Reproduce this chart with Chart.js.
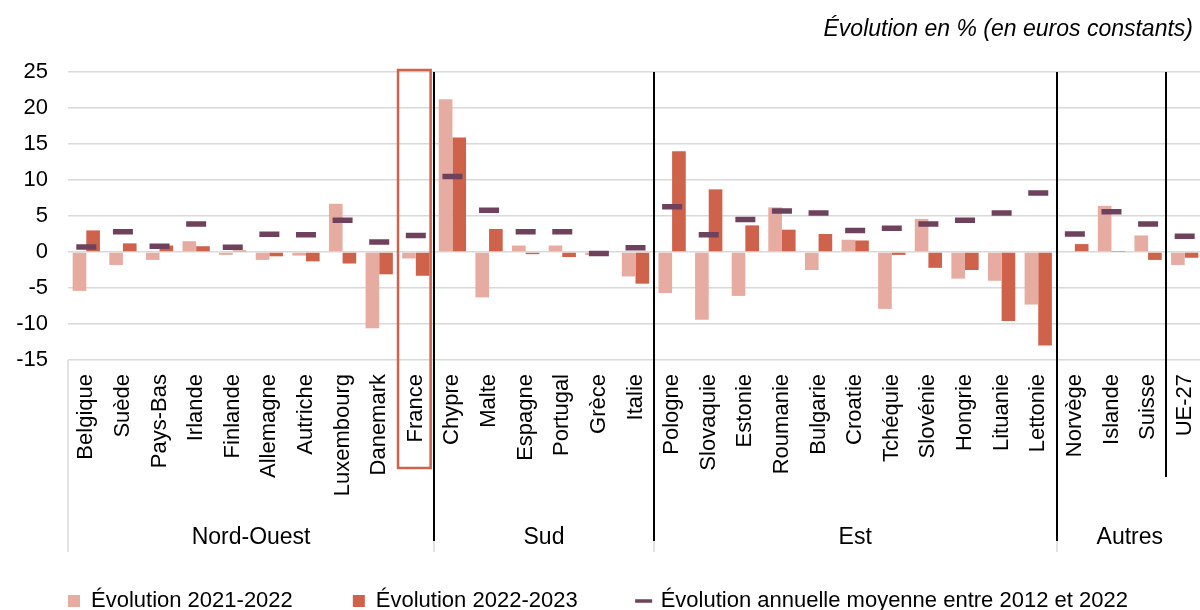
<!DOCTYPE html>
<html lang="fr">
<head>
<meta charset="utf-8">
<title>Évolution en % (en euros constants)</title>
<script src="https://cdn.jsdelivr.net/npm/chart.js@4.4.1/dist/chart.umd.min.js"></script>
<style>
    html, body { margin: 0; padding: 0; background: #fff; overflow: hidden; }
    #wrap { width: 1203px; height: 622px; }
</style>
</head>
<body>
<div id="wrap"><canvas id="chart" width="1203" height="622"></canvas></div>
<script>
    "use strict";

    // pays, dans l'ordre des groupes
    const countries = [
        'Belgique', 'Suède', 'Pays-Bas', 'Irlande', 'Finlande', 'Allemagne', 'Autriche', 'Luxembourg', 'Danemark', 'France',
        'Chypre', 'Malte', 'Espagne', 'Portugal', 'Grèce', 'Italie',
        'Pologne', 'Slovaquie', 'Estonie', 'Roumanie', 'Bulgarie', 'Croatie', 'Tchéquie', 'Slovénie', 'Hongrie', 'Lituanie', 'Lettonie',
        'Norvège', 'Islande', 'Suisse', 'UE-27'
    ];

    const groupNames = ['Nord-Ouest', 'Sud', 'Est', 'Autres'];
    const groupSizes = [10, 6, 11, 4];

    const evol2122 = [
        -5.4, -1.8, -1.1, 1.5, -0.4, -1.1, -0.5, 6.7, -10.6, -0.9,
        21.2, -6.3, 0.9, 0.9, -0.4, -3.4,
        -5.7, -9.4, -6.1, 6.2, -2.5, 1.7, -7.9, 4.6, -3.7, -4.0, -7.3,
        0.0, 6.4, 2.3, -1.8
    ];

    const evol2223 = [
        3.0, 1.2, 0.9, 0.8, 0.2, -0.6, -1.3, -1.6, -3.1, -3.3,
        15.9, 3.2, -0.3, -0.7, -0.1, -4.4,
        14.0, 8.7, 3.7, 3.1, 2.5, 1.6, -0.4, -2.2, -2.5, -9.6, -13.0,
        1.1, 0.05, -1.1, -0.8
    ];

    const evolMoyenne = [
        0.7, 2.8, 0.8, 3.9, 0.65, 2.45, 2.4, 4.4, 1.4, 2.3,
        10.5, 5.8, 2.8, 2.8, -0.2, 0.6,
        6.3, 2.4, 4.5, 5.7, 5.4, 3.0, 3.3, 3.9, 4.4, 5.4, 8.2,
        2.5, 5.6, 3.9, 2.2
    ];

    const yTicks = [-15, -10, -5, 0, 5, 10, 15, 20, 25];

    const lightColor = '#e6aca1';
    const darkColor = '#cf624a';
    const dashColor = '#6e425c';
    const gridColor = '#d9d9d9';
    const fontFamily = '"Liberation Sans", Arial, sans-serif';

    const highlight = 'France';
    const subSeparator = 'UE-27';

    const regionsPlugin = {
        id: 'regions',
        afterDatasetsDraw: function (chart) {
            const ctx = chart.ctx;
            const area = chart.chartArea;
            const x = chart.scales.x;
            const step = x.getPixelForValue(1) - x.getPixelForValue(0);
            const edge = (i) => x.getPixelForValue(i) - step / 2;
            const labelsBottom = area.bottom + 192;

            ctx.save();

            // light frame of the category axis
            ctx.strokeStyle = gridColor;
            ctx.lineWidth = 1.5;
            ctx.beginPath();
            ctx.moveTo(area.left, area.bottom);
            ctx.lineTo(area.left, labelsBottom);
            let start = 0;
            groupSizes.forEach((size) => {
                start += size;
                const px = Math.round(edge(start));
                ctx.moveTo(px, area.bottom);
                ctx.lineTo(px, labelsBottom);
            });
            ctx.stroke();

            // black group separators
            ctx.strokeStyle = '#000';
            ctx.lineWidth = 2;
            ctx.beginPath();
            start = 0;
            groupSizes.slice(0, -1).forEach((size) => {
                start += size;
                const px = Math.round(edge(start));
                ctx.moveTo(px, area.top);
                ctx.lineTo(px, area.bottom + 181);
            });
            const sub = Math.round(edge(countries.indexOf(subSeparator)));
            ctx.moveTo(sub, area.top);
            ctx.lineTo(sub, area.bottom + 117);
            ctx.stroke();

            // group names
            ctx.fillStyle = '#000';
            ctx.font = '23px ' + fontFamily;
            ctx.textAlign = 'center';
            ctx.textBaseline = 'middle';
            start = 0;
            groupSizes.forEach((size, i) => {
                const cx = (edge(start) + edge(start + size)) / 2;
                ctx.fillText(groupNames[i], cx, area.bottom + 178);
                start += size;
            });

            // France box
            const fi = countries.indexOf(highlight);
            ctx.strokeStyle = darkColor;
            ctx.lineWidth = 2.5;
            const bx = edge(fi) + 0.5;
            ctx.strokeRect(bx, area.top - 2, step - 4, area.bottom + 108 - (area.top - 2));

            // unit title
            ctx.font = 'italic 23px ' + fontFamily;
            ctx.textAlign = 'right';
            ctx.fillText('Évolution en % (en euros constants)', 1193, 30);

            ctx.restore();
        }
    };

    const legendLabels = ['Évolution 2021-2022', 'Évolution 2022-2023', 'Évolution annuelle moyenne entre 2012 et 2022'];

    new Chart(document.getElementById('chart'), {
        type: 'bar',
        data: {
            labels: countries,
            datasets: [{
                label: legendLabels[0],
                data: evol2122,
                backgroundColor: lightColor,
                order: 2
            }, {
                label: legendLabels[1],
                data: evol2223,
                backgroundColor: darkColor,
                order: 2
            }, {
                type: 'line',
                label: legendLabels[2],
                data: evolMoyenne,
                showLine: false,
                pointStyle: 'line',
                pointRadius: 10,
                pointHoverRadius: 10,
                pointBorderWidth: 5.5,
                pointBorderColor: dashColor,
                pointBackgroundColor: dashColor,
                borderColor: dashColor,
                order: 1
            }]
        },
        options: {
            responsive: false,
            animation: false,
            devicePixelRatio: 1,
            categoryPercentage: 0.745,
            barPercentage: 1,
            layout: {
                autoPadding: false,
                padding: {top: 72, left: 8, right: 0, bottom: 0}
            },
            scales: {
                x: {
                    grid: {display: false, drawTicks: false},
                    border: {display: false},
                    ticks: {
                        autoSkip: false,
                        maxRotation: 90,
                        minRotation: 90,
                        padding: 14,
                        color: '#000',
                        font: {family: fontFamily, size: 22}
                    },
                    afterFit: (scale) => {
                        scale.height = 170;
                        scale.paddingLeft = 0;
                        scale.paddingRight = 0;
                    }
                },
                y: {
                    min: -15,
                    max: 25,
                    afterBuildTicks: (scale) => {
                        scale.ticks = yTicks.map((v) => ({value: v}));
                    },
                    grid: {color: gridColor, lineWidth: 1.5, drawTicks: false},
                    border: {display: false},
                    ticks: {
                        padding: 20,
                        color: '#000',
                        font: {family: fontFamily, size: 22}
                    },
                    afterFit: (scale) => {
                        scale.width = 60;
                    }
                }
            },
            plugins: {
                tooltip: {enabled: false},
                legend: {
                    position: 'bottom',
                    align: 'start',
                    labels: {
                        usePointStyle: true,
                        boxWidth: 12,
                        boxHeight: 12,
                        padding: 60,
                        color: '#000',
                        font: {family: fontFamily, size: 22},
                        generateLabels: (chart) => chart.data.datasets.map((ds, i) => ({
                            text: ds.label,
                            datasetIndex: i,
                            hidden: false,
                            fontColor: '#000',
                            pointStyle: ds.type === 'line' ? 'line' : 'rect',
                            fillStyle: ds.type === 'line' ? dashColor : ds.backgroundColor,
                            strokeStyle: ds.type === 'line' ? dashColor : ds.backgroundColor,
                            lineWidth: ds.type === 'line' ? 3.5 : 0
                        }))
                    }
                }
            }
        },
        plugins: [regionsPlugin]
    });
</script>
</body>
</html>
